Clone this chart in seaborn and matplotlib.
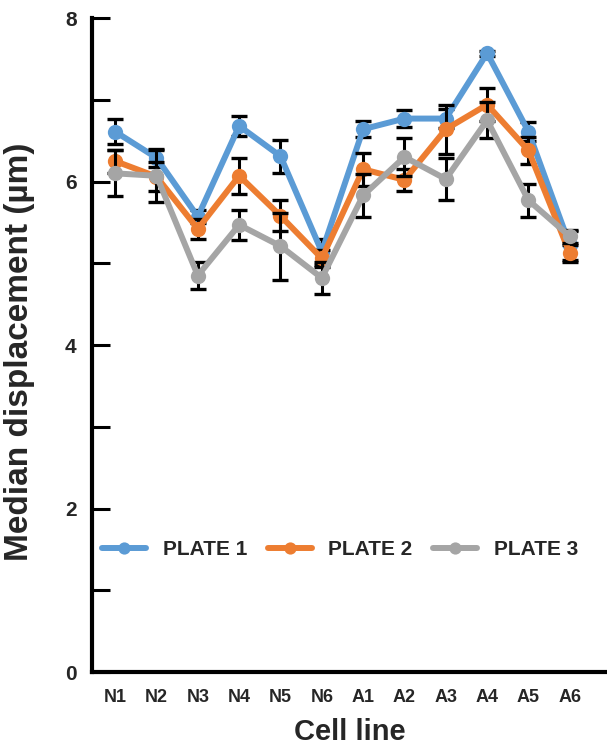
import numpy as np
import pandas as pd
import matplotlib
matplotlib.use("Agg")
import matplotlib.pyplot as plt
import seaborn as sns
from matplotlib.ticker import MultipleLocator

# Cell lines on the x axis
cell_lines = ["N1", "N2", "N3", "N4", "N5", "N6", "A1", "A2", "A3", "A4", "A5", "A6"]

# Median displacement (µm) per plate
plate1 = [6.61, 6.29, 5.57, 6.68, 6.31, 5.14, 6.64, 6.77, 6.77, 7.57, 6.61, 5.22]
plate2 = [6.25, 6.06, 5.42, 6.07, 5.58, 5.06, 6.15, 6.02, 6.64, 6.94, 6.38, 5.12]
plate3 = [6.10, 6.07, 4.85, 5.47, 5.21, 4.82, 5.83, 6.30, 6.03, 6.75, 5.77, 5.33]

# Error bar half-widths per plate
err1 = [0.15, 0.11, 0.08, 0.12, 0.20, 0.16, 0.10, 0.10, 0.12, 0.03, 0.12, 0.18]
err2 = [0.14, 0.18, 0.12, 0.22, 0.19, 0.10, 0.20, 0.13, 0.30, 0.20, 0.17, 0.10]
err3 = [0.28, 0.32, 0.16, 0.18, 0.41, 0.20, 0.26, 0.23, 0.26, 0.22, 0.20, 0.08]

series_names = ["PLATE 1", "PLATE 2", "PLATE 3"]
colors = ["#5B9BD5", "#ED7D31", "#A5A5A5"]

sns.set_style("white")
plt.rcParams["font.family"] = ["Liberation Sans", "DejaVu Sans"]
plt.rcParams["font.weight"] = "bold"

fig = plt.figure(figsize=(6.07, 7.48), dpi=100)
ax = fig.add_axes([0.1516, 0.1016, 0.8484, 0.8743])

values = [plate1, plate2, plate3]
errors = [err1, err2, err3]
positions = np.arange(len(cell_lines))

for i, (name, vals, errs, col) in enumerate(zip(series_names, values, errors, colors)):
    df = pd.DataFrame({"cell": cell_lines, "value": vals})
    ax.errorbar(positions, vals, yerr=errs, fmt="none", ecolor="black",
                elinewidth=2.2, capsize=6, capthick=2.4, zorder=2 + 2 * i)
    sns.lineplot(data=df, x="cell", y="value", ax=ax, color=col, label=name,
                 marker="o", markersize=11, markeredgewidth=0, linewidth=4.3,
                 sort=False, zorder=3 + 2 * i)

ax.set_xlim(-0.56, 11.9)
ax.set_ylim(0, 8)

ax.yaxis.set_major_locator(MultipleLocator(2))
ax.yaxis.set_minor_locator(MultipleLocator(1))
ax.tick_params(axis="y", which="both", direction="in", length=13, width=2.2,
               color="black", left=True, labelsize=15, pad=11)
ax.tick_params(axis="x", which="both", length=0, labelsize=13, pad=12)
for lab in ax.get_xticklabels() + ax.get_yticklabels():
    lab.set_fontweight("bold")

for side in ["top", "right"]:
    ax.spines[side].set_visible(False)
for side in ["left", "bottom"]:
    ax.spines[side].set_color("black")
    ax.spines[side].set_linewidth(3)

ax.set_xlabel("Cell line", fontsize=21, fontweight="bold", labelpad=9)
ax.set_ylabel("Median displacement (µm)", fontsize=24, fontweight="bold")
ax.yaxis.set_label_coords(-0.11, 0.49)

leg = ax.legend(loc="center left", bbox_to_anchor=(0.02, 0.1875), ncol=3,
                frameon=False, fontsize=15, handlelength=2.1, handletextpad=0.8,
                columnspacing=1.0, borderaxespad=0, borderpad=0, markerscale=0.8)
for t in leg.get_texts():
    t.set_fontweight("bold")

fig.savefig("out.png", dpi=100, facecolor="white")
